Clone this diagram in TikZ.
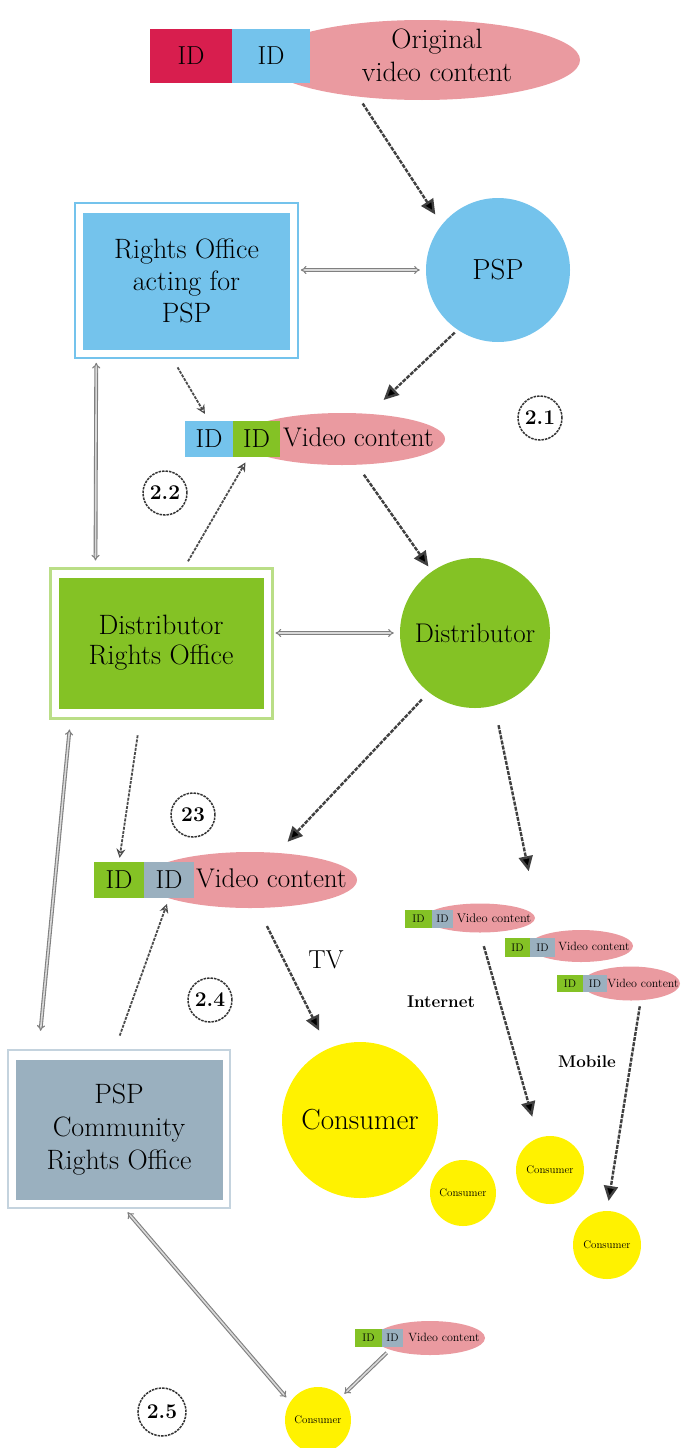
\documentclass[tikz,border=0pt]{standalone}
\usepackage{fontspec}
\usetikzlibrary{arrows.meta,shapes.geometric}
\definecolor{idred}{RGB}{216,30,78}
\definecolor{idblue}{RGB}{116,195,236}
\definecolor{idgreen}{RGB}{132,194,37}
\definecolor{idgrey}{RGB}{154,176,191}
\definecolor{vpink}{RGB}{234,154,160}
\definecolor{cyellow}{RGB}{255,242,0}
\definecolor{lgreen}{RGB}{186,222,135}
\definecolor{lgrey}{RGB}{196,211,222}
\newcommand{\fs}[2]{\fontsize{#1}{#2}\selectfont}
\begin{document}
\begin{tikzpicture}[x=1pt,y=-1pt,
  ell/.style={ellipse,fill=vpink,inner sep=0pt},
  idbox/.style={rectangle,inner sep=0pt,font=\fs{26}{26}},
  sidbox/.style={rectangle,inner sep=0pt,font=\fs{11}{11}},
  circ/.style={circle,inner sep=0pt},
  txt/.style={inner sep=0pt,align=center},
  darr/.style={draw=black!75,line width=2.4pt,dash pattern=on 4pt off 1.2pt,-{Triangle[length=15pt,width=14pt,fill=black]}},
  oarr/.style={draw=black!70,line width=1.8pt,dash pattern=on 3pt off 1.2pt,-{Stealth[open,length=9pt,width=9pt,line width=1.2pt]}},
  dbl/.style={draw=black!50,double=black!15,double distance=1.6pt,line width=1.1pt,Implies-Implies},
  sdbl/.style={draw=black!50,double=black!15,double distance=1.6pt,line width=1.1pt,-Implies},
  clab/.style={circle,draw=black!80,dash pattern=on 2.5pt off 1pt,line width=1.5pt,minimum size=44pt,inner sep=0pt,font=\fs{21}{21}\bfseries},
]
\useasboundingbox (0,0) rectangle (682,1448);

% top
\node[ell,minimum width=316pt,minimum height=80pt] (orig) at (422,60) {};
\node[idbox,fill=idred,minimum width=82pt,minimum height=54pt] (id0a) at (191,56) {ID};
\node[idbox,fill=idblue,minimum width=78pt,minimum height=54pt] (id0b) at (271,56) {ID};
\node[txt,font=\fs{28}{33}] (origt) at (437,55) {Original\\video content};

% rights office for PSP
\node[draw=idblue,line width=1.5pt,minimum width=223pt,minimum height=155pt,inner sep=0pt] (ro) at (186.5,280.5) {};
\node[txt,fill=idblue,minimum width=207pt,minimum height=137pt,font=\fs{28}{32}] (roin) at (186.5,281) {Rights Office\\acting for\\PSP};
\node[circ,fill=idblue,minimum size=144pt,font=\fs{29}{29}] (psp) at (498,270) {PSP};

% video content 2
\node[ell,minimum width=206pt,minimum height=52pt] (vc2e) at (342,439) {};
\node[idbox,fill=idblue,minimum width=48pt,minimum height=36pt] (id2a) at (209,439) {ID};
\node[idbox,fill=idgreen,minimum width=47pt,minimum height=36pt] (id2b) at (256.5,439) {ID};
\node[txt,font=\fs{27}{27},anchor=west] (vc2t) at (283,437) {Video content};

\node[clab] (l21) at (540,418) {2.1};
\node[clab] (l22) at (165,493) {2.2};

% distributor
\node[draw=lgreen,line width=3pt,minimum width=222pt,minimum height=150pt,inner sep=0pt] (dro) at (161,643) {};
\node[txt,fill=idgreen,minimum width=205pt,minimum height=131pt,font=\fs{28}{30}] (droin) at (161,643) {Distributor\\Rights Office};
\node[circ,fill=idgreen,minimum size=150pt,font=\fs{27}{27}] (dist) at (475,633) {Distributor};

% video content 3
\node[clab] (l23) at (193,815) {23};
\node[ell,minimum width=214pt,minimum height=56pt] (vc3e) at (250,880) {};
\node[idbox,fill=idgreen,minimum width=50pt,minimum height=36pt] (id3a) at (119,880) {ID};
\node[idbox,fill=idgrey,minimum width=50pt,minimum height=36pt] (id3b) at (169,880) {ID};
\node[txt,font=\fs{27}{27},anchor=west] (vc3t) at (196,878) {Video content};

\node[txt,font=\fs{26}{26}] (tv) at (326,960) {TV};
\node[clab] (l24) at (210,1000) {2.4};

% small a
\node[ell,minimum width=110pt,minimum height=29pt] (vcae) at (480,918) {};
\node[sidbox,fill=idgreen,minimum width=27pt,minimum height=18pt] (idaa) at (418.5,919) {ID};
\node[sidbox,fill=idgrey,minimum width=21pt,minimum height=18pt] (idab) at (442.5,919) {ID};
\node[txt,font=\fs{12.5}{13}] (vcat) at (494,918) {Video content};

% small b
\node[ell,minimum width=104pt,minimum height=32pt] (vcbe) at (581,946) {};
\node[sidbox,fill=idgreen,minimum width=25pt,minimum height=19pt] (idba) at (517.5,947.5) {ID};
\node[sidbox,fill=idgrey,minimum width=25pt,minimum height=19pt] (idbb) at (542.5,947.5) {ID};
\node[txt,font=\fs{12}{13}] (vcbt) at (594,946) {Video content};

% small c
\node[ell,minimum width=98pt,minimum height=34pt] (vcce) at (631,983.5) {};
\node[sidbox,fill=idgreen,minimum width=26pt,minimum height=17pt] (idca) at (570,983.5) {ID};
\node[sidbox,fill=idgrey,minimum width=24pt,minimum height=17pt] (idcb) at (595,983.5) {ID};
\node[txt,font=\fs{12}{13}] (vcct) at (643,983) {Video content};

\node[txt,font=\fs{17}{17}\bfseries] (inet) at (441,1002) {Internet};
\node[txt,font=\fs{17}{17}\bfseries] (mob) at (587,1062) {Mobile};

% PSP community
\node[draw=lgrey,line width=2.5pt,minimum width=222pt,minimum height=158pt,inner sep=0pt] (pspc) at (119,1129) {};
\node[txt,fill=idgrey,minimum width=207pt,minimum height=140pt,font=\fs{28}{33}] (pspcin) at (119,1129.5) {PSP\\Community\\Rights Office};

\node[circ,fill=cyellow,minimum size=156pt,font=\fs{29}{29}] (cons) at (360,1120) {Consumer};
\node[circ,fill=cyellow,minimum size=66pt,font=\fs{11}{11}] (sc1) at (463,1193) {Consumer};
\node[circ,fill=cyellow,minimum size=68pt,font=\fs{11}{11}] (sc2) at (550,1170) {Consumer};
\node[circ,fill=cyellow,minimum size=68pt,font=\fs{11}{11}] (sc3) at (607,1245) {Consumer};

% bottom
\node[ell,minimum width=110pt,minimum height=34pt] (vcde) at (430,1338) {};
\node[sidbox,fill=idgreen,minimum width=27pt,minimum height=18pt] (idda) at (368.5,1338) {ID};
\node[sidbox,fill=idgrey,minimum width=21pt,minimum height=18pt] (iddb) at (392.5,1338) {ID};
\node[txt,font=\fs{12}{13}] (vcdt) at (444,1337) {Video content};
\node[circ,fill=cyellow,minimum size=66pt,font=\fs{11}{11}] (sc4) at (318,1420) {Consumer};
\node[clab,minimum size=48pt] (l25) at (162,1412) {2.5};

% connectors
\draw[darr,shorten <=8pt,shorten >=12pt] (orig.210) -- (psp.141);
\draw[dbl,shorten <=2pt,shorten >=6pt] (ro.east |- psp.west) -- (psp.west);
\draw[darr,shorten <=4pt,shorten >=20pt] (psp.236) -- (vc2e.43);
\draw[oarr,shorten <=10pt,shorten >=8pt] ([xshift=-14pt]ro.south) -- (id2a.north);
\draw[dbl,shorten <=4pt,shorten >=6pt] ([xshift=22pt]ro.south west) -- ([xshift=47pt]dro.north west);
\draw[oarr,shorten <=6pt,shorten >=6pt] ([xshift=24pt]dro.north) -- ([xshift=-8pt]id2b.south);
\draw[darr,shorten <=12pt,shorten >=6pt] (vc2e.-60) -- (dist.125);
\draw[dbl,shorten <=2pt,shorten >=6pt] (dro.east |- dist.west) -- (dist.west);
\draw[darr,shorten <=10pt,shorten >=15pt] (dist.232) -- (vc3e.45);
\draw[darr,shorten <=20pt,shorten >=68pt] (dist.-75) -- (idbb.north);
\draw[oarr,shorten <=16pt,shorten >=4pt] ([xshift=-21pt]dro.south) -- (id3a.north);
\draw[dbl,shorten <=10pt,shorten >=18pt] ([xshift=22pt]dro.south west) -- ([xshift=32pt]pspc.north west);
\draw[oarr,shorten <=14pt,shorten >=6pt] ([xshift=-4pt]pspc.north) -- (id3b.south);
\draw[darr,shorten <=20pt,shorten >=20pt] ([xshift=8pt]vc3e.south) -- (cons.114);
\draw[darr,shorten <=14pt,shorten >=22pt] (vcae.south) -- (sc2.110);
\draw[darr,shorten <=6pt,shorten >=10pt] (vcce.-60) -- (sc3.north);
\draw[dbl,shorten <=4pt,shorten >=6pt] ([xshift=6pt]pspc.south) -- (sc4.147);
\draw[sdbl,shorten <=8pt,shorten >=4pt] (iddb.south) -- (sc4.north east);
\end{tikzpicture}
\end{document}
